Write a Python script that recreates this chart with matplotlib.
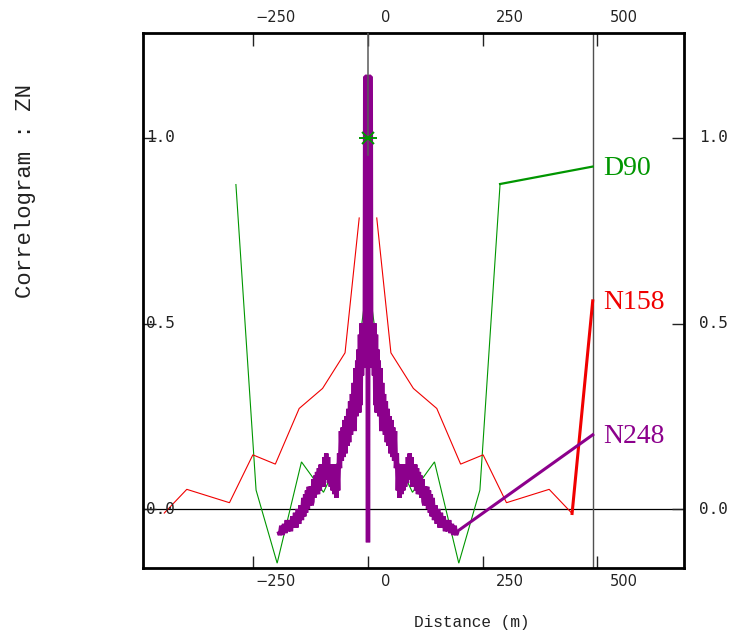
"""Directional correlograms of ZN (D90, N158, N248)."""

import matplotlib

matplotlib.use("Agg")
import matplotlib.pyplot as plt
from matplotlib.transforms import offset_copy

# positive lags (m) and correlogram values, drawn at +h and -h
d90_lag = [8, 49, 97, 145, 198, 244, 288]
d90_val = [0.55, 0.17, 0.045, 0.127, -0.146, 0.051, 0.876]

n158_lag = [19, 50, 99, 150, 202, 251, 302, 395, 445]
n158_val = [0.786, 0.421, 0.325, 0.271, 0.121, 0.146, 0.017, 0.053, -0.012]

n248_lag = [
    0.0, 1.5, 6.0, 7.0, 8.5, 10.0, 11.5, 13.0, 14.5, 16.0, 17.5, 19.0, 20.5,
    22.0, 23.5, 25.0, 27.0, 29.0, 31.0, 33.0, 35.0, 37.0, 39.0, 41.0, 43.0,
    45.0, 47.0, 49.0, 51.0, 53.0, 55.0, 57.0, 59.0, 61.0, 63.0, 65.0, 67.0,
    69.0, 71.0, 73.0, 75.0, 77.0, 79.0, 81.0, 83.0, 85.0, 87.0, 89.0, 91.0,
    93.0, 95.0, 97.0, 99.0, 101.0, 103.0, 105.0, 107.0, 109.0, 111.0, 113.0,
    115.0, 117.0, 119.0, 121.0, 123.0, 125.0, 127.0, 129.0, 131.0, 133.0,
    135.0, 137.0, 139.0, 141.0, 144.0, 147.0, 150.0, 153.0, 156.0, 159.0,
    162.0, 165.0, 168.0, 171.0, 174.0, 177.0, 180.0, 183.0, 186.0, 189.0,
    192.0, 195.0,
]
n248_val = [
    -0.09, 1.165, 1.165, 0.46, 0.50, 0.38, 0.49, 0.36, 0.50, 0.28, 0.47, 0.26,
    0.43, 0.28, 0.40, 0.25, 0.38, 0.21, 0.34, 0.22, 0.31, 0.20, 0.29, 0.18,
    0.27, 0.17, 0.25, 0.15, 0.24, 0.14, 0.22, 0.13, 0.21, 0.11, 0.15, 0.05,
    0.12, 0.03, 0.10, 0.04, 0.12, 0.05, 0.12, 0.06, 0.12, 0.07, 0.14, 0.08,
    0.15, 0.09, 0.14, 0.06, 0.12, 0.07, 0.12, 0.05, 0.11, 0.04, 0.10, 0.04,
    0.09, 0.03, 0.08, 0.02, 0.01, 0.06, 0.01, 0.06, 0.00, 0.05, -0.01, 0.04,
    -0.02, 0.03, -0.03, 0.01, -0.04, 0.00, -0.05, -0.01, -0.05, -0.02, -0.06,
    -0.03, -0.06, -0.03, -0.065, -0.04, -0.07, -0.045, -0.07, -0.06,
]

series_names = ["D90", "N158", "N248"]
series_colors = ["#009600", "#f00000", "#8c008c"]
label_x = 490
label_y = [0.923, 0.561, 0.20]

xticks = [-250, 0, 250, 500]
xtick_labels = ["\u2212250", "0", "250", "500"]
yticks = [0.0, 0.5, 1.0]
ytick_labels = ["0.0", "0.5", "1.0"]

fig = plt.figure(figsize=(7.34, 6.33), dpi=100)
ax = fig.add_axes([143 / 734, 65 / 633, 541 / 734, 535 / 633])
ax.set_xlim(-490.5, 689)
ax.set_ylim(-0.159, 1.283)

# reference lines
ax.axhline(0, color="black", linewidth=0.9, zorder=1)
ax.axvline(label_x, color="#505050", linewidth=1.0, zorder=1)

lags = [d90_lag, n158_lag, n248_lag]
vals = [d90_val, n158_val, n248_val]
widths = [0.8, 0.8, 3.2]
for lag, val, color, lw in zip(lags, vals, series_colors, widths):
    for sign in (-1, 1):
        ax.plot([sign * h for h in lag], val, color=color, linewidth=lw,
                solid_joinstyle="bevel", solid_capstyle="butt",
                zorder=3 if lw > 1 else 2)

# connectors from the last lag to the series label
conn_widths = [1.6, 2.2, 2.2]
for lag, val, color, ly, lw in zip(lags, vals, series_colors, label_y, conn_widths):
    ax.plot([lag[-1], label_x], [val[-1], ly], color=color, linewidth=lw, zorder=3)

for name, color, ly in zip(series_names, series_colors, label_y):
    ax.text(label_x, ly, name, color=color, fontsize=20, family="Liberation Serif",
            ha="left", va="center",
            transform=offset_copy(ax.transData, fig=fig, x=10, y=-2, units="dots"))

# lag-0 marker and the line above it
ax.plot([0, 0], [0.954, 1.283], color="#5a5a5a", linewidth=1.1, zorder=4)
ax.plot(0, 1.0, marker="x", color="#009600", markersize=9, mew=1.4, zorder=5)
ax.plot(0, 1.0, marker="_", color="#009600", markersize=13, mew=1.4, zorder=5)

for side in ax.spines.values():
    side.set_linewidth(2.0)

ax.set_xticks(xticks)
ax.set_yticks(yticks)
ax.tick_params(axis="both", direction="in", length=9, width=1.0, color="#222222",
               top=True, right=True, labelbottom=False, labeltop=False,
               labelleft=False, labelright=False)

xtick_font = dict(family="DejaVu Sans", fontsize=10.5, color="#222222")
ytick_font = dict(family="DejaVu Sans Mono", fontsize=11.5, color="#222222")
for v, s in zip(xticks, xtick_labels):
    dx = 2 if v < 0 else 13
    ax.text(v, 0, s, ha="left", va="center", **xtick_font,
            transform=offset_copy(ax.get_xaxis_transform(), fig=fig, x=dx, y=-14,
                                  units="dots"))
    ax.text(v, 1, s, ha="left", va="center", **xtick_font,
            transform=offset_copy(ax.get_xaxis_transform(), fig=fig, x=dx, y=15,
                                  units="dots"))
for v, s in zip(yticks, ytick_labels):
    ax.text(0, v, s, ha="left", va="center", **ytick_font,
            transform=offset_copy(ax.get_yaxis_transform(), fig=fig, x=3, y=0,
                                  units="dots"))
    ax.text(1, v, s, ha="left", va="center", **ytick_font,
            transform=offset_copy(ax.get_yaxis_transform(), fig=fig, x=15, y=0,
                                  units="dots"))

fig.text(472 / 734, 1 - 622 / 633, "Distance (m)", family="Liberation Mono",
         fontsize=11.6, ha="center", va="center", color="#222222")
fig.text(26 / 734, 1 - 191 / 633, "Correlogram : ZN", family="Liberation Mono",
         fontsize=16, rotation=90, ha="center", va="center", color="#222222")

fig.savefig("out.png", dpi=100)
